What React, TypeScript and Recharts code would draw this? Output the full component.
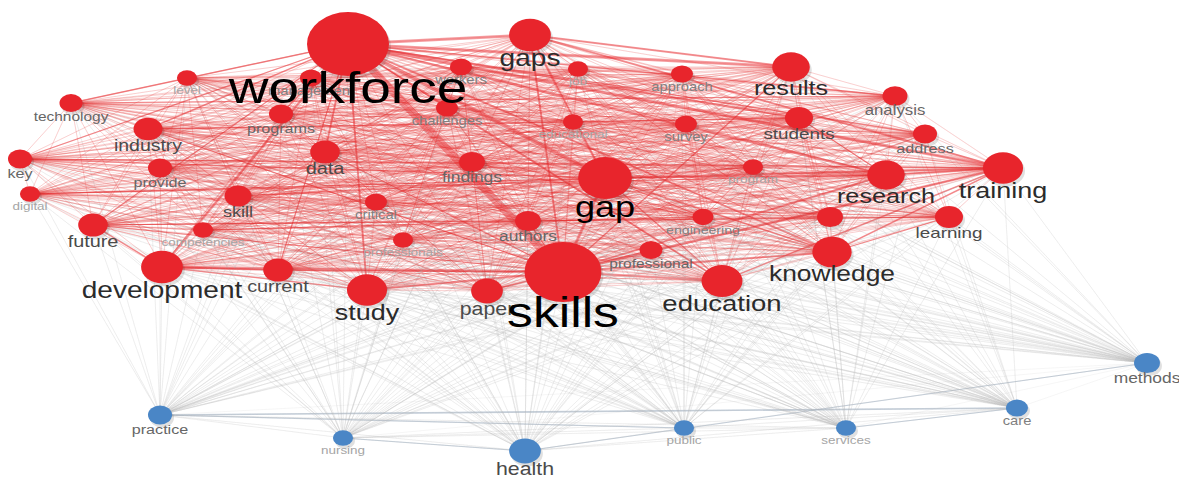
import React from "react";
import { ScatterChart, Scatter, XAxis, YAxis, ZAxis, ReferenceLine } from "recharts";

// cluster 1 (red): term, position in map coordinates, occurrence weight
const redTerms = [
  "workforce", "skills", "gap", "gaps", "results", "training", "research", "knowledge",
  "education", "development", "study", "data", "industry", "students", "paper", "current",
  "future", "skill", "findings", "authors", "learning", "analysis", "address", "",
  "technology", "key", "digital", "provide", "level", "programs", "management", "workers",
  "challenges", "job", "approach", "educational", "survey", "program", "critical",
  "competencies", "professionals", "engineering", "professional",
];
const redX = [
  348, 563, 605, 530, 791, 1003, 886, 832, 722, 162, 367, 325, 148, 799, 487, 278,
  93, 238, 472, 528, 949, 895, 925, 830, 71, 20, 30, 160, 187, 281, 311, 461,
  447, 578, 682, 573, 686, 753, 376, 203, 403, 703, 651,
];
const redY = [
  44, 272, 178, 35, 67, 168, 175, 252, 281, 267, 290, 152, 129, 118, 291, 270,
  225, 196, 162, 221, 217, 96, 134, 217, 103, 159, 194, 168, 78, 114, 78, 67,
  108, 69, 74, 122, 124, 167, 202, 230, 240, 217, 250,
];
const redWeight = [
  100, 88, 43, 26, 21, 24, 21, 23, 25, 26, 24, 13, 12.5, 11.7, 15, 13,
  13, 10.8, 10, 10, 11.7, 9.3, 8.6, 10, 7.9, 8.6, 6, 8.6, 6, 8.6, 7.2, 7.2,
  7.2, 6, 7.2, 6, 7.2, 6, 7.2, 6, 6, 6.6, 7.9,
];

// cluster 2 (blue)
const blueTerms = ["practice", "nursing", "health", "public", "services", "care", "methods"];
const blueX = [160, 343, 525, 684, 846, 1017, 1147];
const blueY = [415, 438, 451, 428, 428, 408, 363];
const blueWeight = [8.6, 6, 15, 6, 6, 7.2, 10];

// strongest links: [source, target, link strength]
const strongLinks: [string, string, number][] = [
  ["workforce", "skills", 8], ["workforce", "gap", 4], ["workforce", "gaps", 3],
  ["workforce", "results", 3], ["workforce", "training", 3], ["workforce", "research", 2.5],
  ["workforce", "development", 2.5], ["workforce", "study", 2], ["workforce", "education", 2],
  ["workforce", "knowledge", 2], ["workforce", "students", 2], ["workforce", "data", 2],
  ["workforce", "industry", 1.5], ["workforce", "technology", 1.5], ["workforce", "analysis", 1.5],
  ["workforce", "address", 1.5], ["workforce", "future", 1.2], ["workforce", "current", 1.2],
  ["workforce", "key", 1.2], ["workforce", "programs", 1.2], ["workforce", "challenges", 1.2],
  ["skills", "development", 3], ["skills", "gap", 3], ["skills", "education", 2.5],
  ["skills", "knowledge", 2], ["skills", "training", 2.5], ["skills", "research", 2],
  ["skills", "study", 2], ["skills", "paper", 1.5], ["skills", "gaps", 2],
  ["skills", "results", 1.5], ["skills", "industry", 1.2], ["skills", "future", 1.2],
  ["skills", "current", 1.5], ["skills", "data", 1.2], ["skills", "authors", 1.2],
  ["skills", "professional", 1.2],
  ["gap", "training", 2.5], ["gap", "research", 2], ["gap", "gaps", 2], ["gap", "key", 1.5],
  ["gap", "digital", 1.2], ["gap", "skill", 1.5], ["gap", "knowledge", 1.5],
  ["gap", "education", 1.5], ["gap", "program", 1.2], ["gap", "engineering", 1.2],
  ["gaps", "results", 2], ["gaps", "training", 2], ["research", "training", 2],
  ["research", "students", 1.2], ["knowledge", "training", 1.5], ["knowledge", "learning", 1.2],
  ["education", "training", 1.5], ["development", "current", 2], ["development", "future", 1.5],
  ["development", "study", 1.5], ["industry", "students", 1.5], ["key", "training", 1.2],
  ["technology", "analysis", 1.2], ["digital", "research", 1], ["future", "learning", 1.2],
  ["competencies", "engineering", 1],
];
const blueLinks: [string, string, number][] = [
  ["practice", "care", 1.6], ["public", "practice", 1.2], ["services", "care", 1.2],
  ["health", "methods", 1], ["nursing", "health", 1],
];

type Node = { term: string; x: number; y: number; w: number; cluster: number };

const redNodes: Node[] = redTerms.map((t, i) => ({ term: t, x: redX[i], y: redY[i], w: redWeight[i], cluster: 0 }));
const blueNodes: Node[] = blueTerms.map((t, i) => ({ term: t, x: blueX[i], y: blueY[i], w: blueWeight[i], cluster: 1 }));
const allNodes = [...redNodes, ...blueNodes];
const byTerm = (t: string) => allNodes.find((n) => n.term === t)!;

// each node links to every later node of the map: a star path A-B-A-C-A-...
function star(src: Node, targets: Node[]) {
  const pts: { x: number; y: number }[] = [];
  targets.forEach((t) => {
    pts.push({ x: src.x, y: src.y });
    pts.push({ x: t.x, y: t.y });
  });
  return pts;
}

const COLORS = ["#e8252c", "#4a86c6"];
const SX = 1.22; // the exported map is stretched horizontally
const FONT = "'Liberation Sans', Arial, sans-serif";

function Blank() {
  return <g />;
}

function Dot(props: any) {
  const { cx, cy, width, payload } = props;
  const r = width ? width / 2 : 41 * Math.sqrt(payload.w / 100);
  return (
    <g>
      <ellipse cx={cx + 2} cy={cy + 3} rx={r} ry={r * 0.78} fill="#000" opacity={0.12} />
      <ellipse cx={cx} cy={cy} rx={r} ry={r * 0.78} fill={COLORS[payload.cluster]} />
    </g>
  );
}

function labelColor(r: number) {
  if (r >= 25) return "#000";
  if (r >= 17) return "#2b2b2b";
  if (r >= 13) return "#4a4a4a";
  if (r >= 11.5) return "#666";
  if (r >= 10.5) return "#808080";
  return "#a5a5a5";
}

function Label(props: any) {
  const { cx, cy, width, payload } = props;
  if (!payload.term) return <g />;
  const r = width ? width / 2 : 41 * Math.sqrt(payload.w / 100);
  const fs = Math.max(9, r * 1.1);
  const by = cy + r * 0.78 + fs * 0.55 + 2;
  return (
    <text
      transform={`translate(${cx},${by}) scale(${SX},1)`}
      textAnchor="middle"
      fontSize={fs}
      fontFamily={FONT}
      fill={labelColor(r)}
    >
      {payload.term}
    </text>
  );
}

export default function App() {
  const labelOrder = [...allNodes].sort((a, b) => a.w - b.w);
  return (
    <div style={{ position: "absolute", left: 0, top: 0, background: "#fff" }}>
      <ScatterChart width={1179} height={479} margin={{ top: 0, right: 0, bottom: 0, left: 0 }}>
        <XAxis type="number" dataKey="x" domain={[0, 1179]} hide />
        <YAxis type="number" dataKey="y" domain={[0, 479]} reversed hide />
        <ZAxis type="number" dataKey="w" domain={[0, 100]} range={[0, Math.PI * 41 * 41]} />

        {/* faint grey links from the blue cluster */}
        {blueNodes.map((b, i) => (
          <Scatter
            key={"g" + b.term}
            data={star(b, [...redNodes, ...blueNodes.slice(i + 1)])}
            line={{ stroke: "#bdbdbd", strokeWidth: 0.6, strokeOpacity: 0.22 }}
            shape={Blank}
            isAnimationActive={false}
          />
        ))}

        {/* faint red links inside the red cluster */}
        {redNodes.map((n, i) =>
          i < redNodes.length - 1 ? (
            <Scatter
              key={"r" + i}
              data={star(n, redNodes.slice(i + 1))}
              line={{ stroke: "#e8353b", strokeWidth: 0.7, strokeOpacity: 0.18 }}
              shape={Blank}
              isAnimationActive={false}
            />
          ) : null
        )}

        {blueLinks.map(([a, b, s]) => (
          <ReferenceLine
            key={a + b}
            segment={[{ x: byTerm(a).x, y: byTerm(a).y }, { x: byTerm(b).x, y: byTerm(b).y }]}
            stroke="#8fa6bd"
            strokeWidth={s}
            strokeOpacity={0.5}
            ifOverflow="visible"
          />
        ))}
        {strongLinks.map(([a, b, s]) => (
          <ReferenceLine
            key={a + b}
            segment={[{ x: byTerm(a).x, y: byTerm(a).y }, { x: byTerm(b).x, y: byTerm(b).y }]}
            stroke="#e8252c"
            strokeWidth={s}
            strokeOpacity={0.45}
            ifOverflow="visible"
          />
        ))}

        <Scatter data={allNodes} shape={Dot} isAnimationActive={false} />
        <Scatter data={labelOrder} shape={Label} isAnimationActive={false} />
      </ScatterChart>
    </div>
  );
}
